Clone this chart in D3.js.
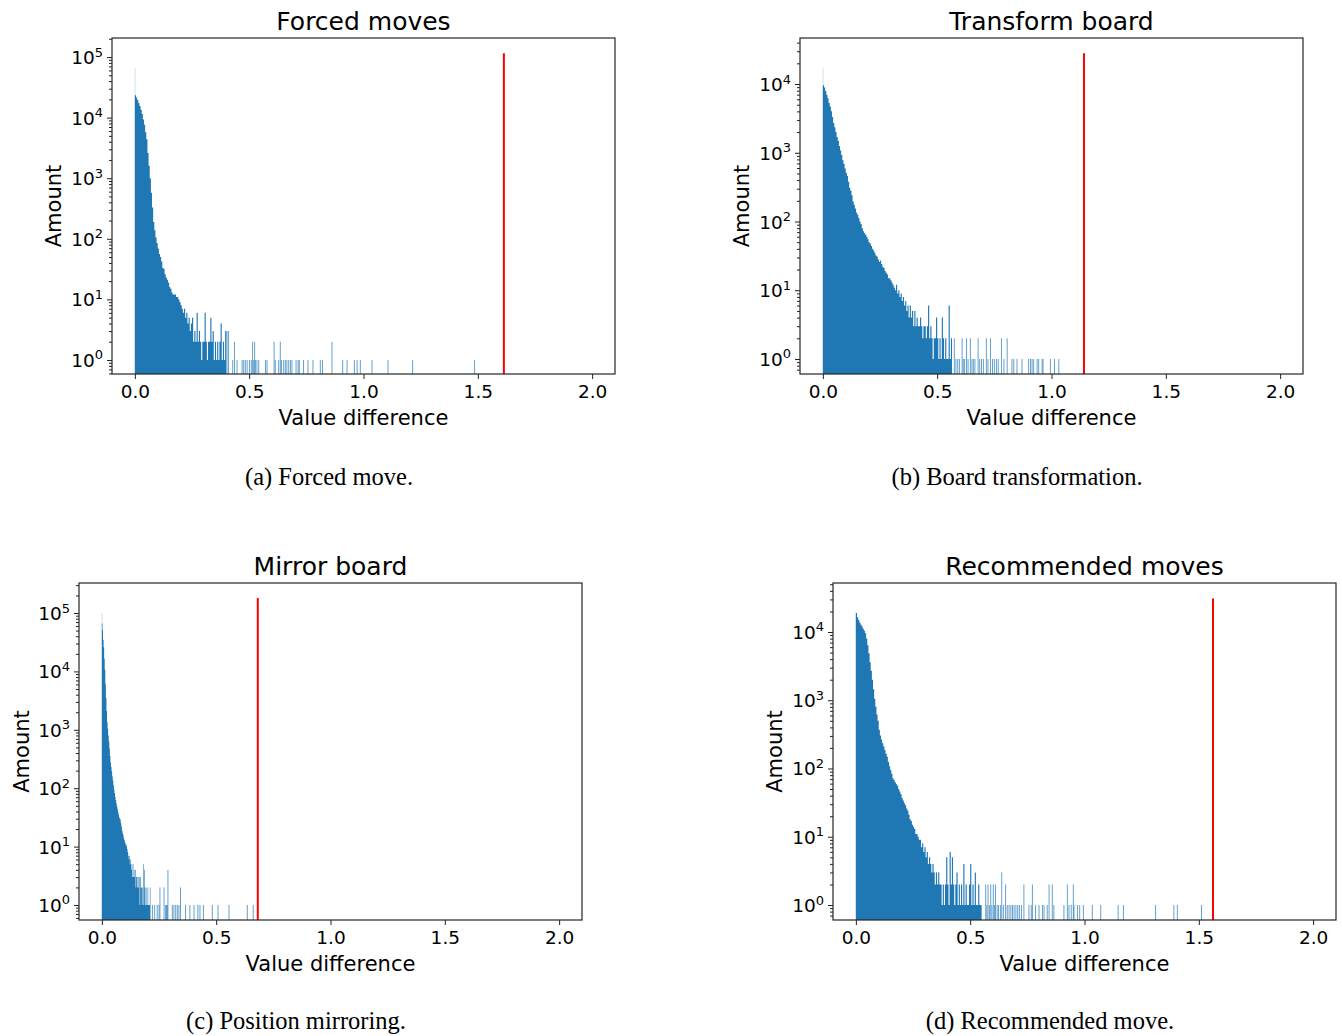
<!DOCTYPE html>
<html>
<head>
<meta charset="utf-8">
<script src="https://cdn.jsdelivr.net/npm/d3@7"></script>
<style>
body { margin: 0; background: #fff; }
svg text { font-family: "DejaVu Sans", sans-serif; fill: #000; }
.tick text, .ylab { font-size: 18.5px; }
.title { font-size: 25px; }
.axlabel { font-size: 21px; }
.caption { font-family: "Liberation Serif", "Times New Roman", serif; font-size: 24.5px; }
</style>
</head>
<body>
<svg id="fig" width="1342" height="1036"></svg>
<script>
// histogram counts
// dense part: consecutive bins starting at 0, sparse part: [x, count] single bins
const denseA = [
  23400, 21400, 19500, 17400, 15500, 13500, 11500, 9300, 7600, 5750,
  4400, 2600, 1600, 1000, 575, 330, 190, 138, 105, 85,
  69, 56, 50, 42, 33, 32, 26, 23, 21, 19,
  16, 15, 13, 12, 12, 12, 11, 11, 10, 9,
  8, 7, 6, 7, 5, 6, 4, 5, 3, 4,
  5, 2, 3, 2, 6, 2, 3, 2, 1, 2,
  2, 6, 2, 1, 2, 2, 5, 2, 3, 1,
  2, 1, 2, 1, 2, 4, 1, 2, 1, 3
];
const sparseA = [
  [0.401, 3], [0.408, 3], [0.426, 1], [0.434, 2], [0.445, 1], [0.467, 1], [0.474, 1],
  [0.481, 1], [0.489, 1], [0.499, 1], [0.507, 1], [0.513, 2], [0.518, 1], [0.522, 2],
  [0.525, 1], [0.532, 1], [0.540, 1], [0.569, 1], [0.576, 1], [0.607, 2], [0.612, 1],
  [0.627, 1], [0.634, 2], [0.639, 1], [0.649, 1], [0.656, 1], [0.663, 1], [0.671, 1],
  [0.678, 1], [0.685, 1], [0.703, 1], [0.712, 1], [0.717, 1], [0.736, 1], [0.755, 1],
  [0.777, 1], [0.809, 1], [0.819, 1], [0.860, 2], [0.907, 1], [0.926, 1], [0.958, 1],
  [0.970, 1], [0.984, 1], [1.035, 1], [1.105, 1], [1.213, 1], [1.484, 1]
];
const spikeA = [0, 66000];

const denseB = [
  9600, 8900, 7900, 7000, 6200, 5300, 4700, 4000, 3300, 2700,
  2350, 2000, 1700, 1500, 1250, 1080, 930, 780, 690, 590,
  510, 460, 380, 310, 280, 240, 195, 175, 155, 135,
  125, 112, 100, 92, 80, 72, 68, 64, 60, 55,
  50, 48, 44, 40, 38, 35, 32, 31, 28, 26,
  27, 24, 22, 21, 19, 18, 17, 15, 15, 14,
  13, 12, 11, 10, 12, 9, 10, 8, 9, 7,
  8, 6, 7, 5, 6, 4, 6, 4, 5, 3,
  5, 3, 4, 3, 3, 4, 3, 2, 3, 3,
  2, 3, 6, 2, 3, 2, 1, 2, 2, 4,
  2, 1, 2, 1, 4, 2, 1, 2, 1, 1,
  6, 1, 2
];
const sparseB = [
  [0.573, 2], [0.580, 1], [0.588, 1], [0.595, 1], [0.607, 2], [0.612, 1], [0.618, 1],
  [0.626, 2], [0.633, 1], [0.643, 2], [0.650, 1], [0.656, 1], [0.663, 1], [0.677, 2],
  [0.684, 1], [0.692, 1], [0.700, 1], [0.713, 2], [0.720, 1], [0.731, 2], [0.740, 1],
  [0.748, 1], [0.757, 1], [0.765, 1], [0.779, 2], [0.790, 1], [0.804, 2], [0.825, 1],
  [0.833, 1], [0.847, 1], [0.869, 1], [0.898, 1], [0.906, 1], [0.913, 1], [0.920, 1],
  [0.935, 1], [0.942, 1], [0.957, 1], [0.961, 1], [0.993, 1], [1.011, 1], [1.030, 1]
];
const spikeB = [0, 17400];

const denseC = [
  66000, 50000, 35000, 26000, 16500, 10700, 6000, 3500, 2100, 1350,
  1050, 800, 630, 480, 355, 275, 230, 195, 160, 135,
  112, 95, 83, 71, 63, 55, 49, 44, 39, 35,
  32, 30, 29, 25, 22, 19, 17, 16, 14, 13,
  12, 11, 11, 10, 9, 8, 7, 6, 7, 5,
  6, 4, 5, 3, 5, 3, 4, 3, 4, 2,
  3, 3, 2, 3, 2, 3, 1, 3, 2, 2,
  1, 2, 5, 1, 4, 2, 1, 2, 1, 1,
  2, 1, 1, 1, 2
];
const sparseC = [
  [0.219, 1], [0.229, 1], [0.240, 1], [0.248, 1], [0.252, 2], [0.270, 2], [0.277, 1],
  [0.281, 1], [0.284, 1], [0.287, 4], [0.306, 1], [0.313, 1], [0.321, 1], [0.328, 1],
  [0.335, 1], [0.342, 2], [0.364, 1], [0.383, 1], [0.401, 1], [0.418, 1], [0.427, 1],
  [0.442, 1], [0.481, 1], [0.506, 1], [0.554, 1], [0.634, 1], [0.660, 1]
];
const spikeC = [0, 100000];

const denseD = [
  19000, 16500, 15000, 13800, 12800, 12000, 11200, 10400, 9600, 8000,
  6400, 4900, 3600, 2700, 2000, 1450, 1050, 800, 620, 500,
  370, 305, 265, 235, 210, 185, 165, 148, 125, 108,
  95, 84, 72, 68, 63, 59, 56, 50, 46, 42,
  37, 34, 31, 29, 26, 24, 21, 18, 17, 15,
  14, 13, 11, 11, 10, 9, 9, 7, 8, 6,
  7, 5, 6, 4, 5, 4, 3, 4, 3, 2,
  3, 2, 3, 2, 2, 1, 2, 1, 2, 5,
  2, 1, 6, 2, 5, 2, 1, 2, 3, 1,
  2, 1, 2, 1, 4, 1, 2, 1, 1, 2,
  4, 1, 2, 1, 3, 1, 1, 2, 1, 1,
  0
];
const sparseD = [
  [0.566, 2], [0.571, 1], [0.576, 2], [0.582, 1], [0.588, 2], [0.593, 1], [0.599, 2],
  [0.604, 1], [0.609, 2], [0.616, 1], [0.622, 1], [0.630, 1], [0.636, 3], [0.643, 1],
  [0.653, 2], [0.660, 1], [0.668, 1], [0.676, 1], [0.683, 1], [0.690, 1], [0.698, 1],
  [0.706, 1], [0.713, 1], [0.722, 1], [0.733, 2], [0.755, 1], [0.765, 1], [0.770, 2],
  [0.784, 1], [0.799, 1], [0.814, 1], [0.821, 1], [0.835, 1], [0.843, 2], [0.857, 2],
  [0.864, 1], [0.908, 1], [0.923, 2], [0.930, 1], [0.940, 1], [0.949, 2], [0.952, 1],
  [0.967, 1], [0.977, 1], [0.993, 1], [1.032, 1], [1.069, 1], [1.145, 1], [1.168, 1],
  [1.309, 1], [1.389, 1], [1.404, 1], [1.510, 1]
];
const spikeD = [0, 19400];

// red threshold lines: [x, top]
const redA = [1.614, 115000];
const redB = [1.142, 28000];
const redC = [0.682, 180000];
const redD = [1.562, 31000];

const titles = ['Forced moves', 'Transform board', 'Mirror board', 'Recommended moves'];
const captions = ['(a) Forced move.', '(b) Board transformation.', '(c) Position mirroring.', '(d) Recommended move.'];
const xTicks = [0, 0.5, 1.0, 1.5, 2.0];

const barColor = '#1f77b4';
const tailW = 0.004;
const spikeW = 0.0015;

const panels = [
  { dense: denseA, bin: 0.005, sparse: sparseA, spike: spikeA, red: redA, yDom: [0.587, 206000], exps: [0, 1, 2, 3, 4, 5],
    box: { l: 112, r: 615, t: 38, b: 374 }, ylabX: 53, cap: [329, 485] },
  { dense: denseB, bin: 0.005, sparse: sparseB, spike: spikeB, red: redB, yDom: [0.605, 46700], exps: [0, 1, 2, 3, 4],
    box: { l: 800, r: 1303, t: 38, b: 374 }, ylabX: 741, cap: [1017, 485] },
  { dense: denseC, bin: 0.0025, sparse: sparseC, spike: spikeC, red: redC, yDom: [0.553, 326600], exps: [0, 1, 2, 3, 4, 5],
    box: { l: 79, r: 582, t: 583, b: 920 }, ylabX: 21, cap: [296, 1029] },
  { dense: denseD, bin: 0.005, sparse: sparseD, spike: spikeD, red: redD, yDom: [0.603, 52200], exps: [0, 1, 2, 3, 4],
    box: { l: 833, r: 1336, t: 583, b: 920 }, ylabX: 774, cap: [1050, 1029] }
];

const svg = d3.select('#fig');

panels.forEach((p, k) => {
  const { l, r, t, b } = p.box;
  const x = d3.scaleLinear().domain([-0.1, 2.1]).range([l, r]);
  const y = d3.scaleLog().domain(p.yDom).range([b, t]);

  const g = svg.append('g');
  const clipId = 'clip' + k;
  svg.append('clipPath').attr('id', clipId)
    .append('rect').attr('x', l).attr('y', t).attr('width', r - l).attr('height', b - t);
  const plot = g.append('g').attr('clip-path', `url(#${clipId})`);

  // dense bins as one stepped area
  const bins = p.dense.map((c, i) => ({ x0: i * p.bin, c }));
  bins.push({ x0: p.dense.length * p.bin, c: 0 });
  const area = d3.area().curve(d3.curveStepAfter)
    .x(d => x(d.x0))
    .y0(b)
    .y1(d => d.c > 0 ? y(d.c) : b);
  plot.append('path').datum(bins).attr('d', area).attr('fill', barColor);

  // thin first bin and isolated tail bins
  plot.append('rect')
    .attr('x', x(p.spike[0])).attr('width', x(p.spike[0] + spikeW) - x(p.spike[0]))
    .attr('y', y(p.spike[1])).attr('height', b - y(p.spike[1]))
    .attr('fill', barColor).attr('opacity', 0.6);

  plot.selectAll('rect.tail').data(p.sparse).join('rect')
    .attr('class', 'tail')
    .attr('x', d => x(d[0]))
    .attr('width', d => x(d[0] + tailW) - x(d[0]))
    .attr('y', d => y(d[1]))
    .attr('height', d => b - y(d[1]))
    .attr('fill', barColor)
    .attr('opacity', 0.75);

  plot.append('line')
    .attr('x1', x(p.red[0])).attr('x2', x(p.red[0]))
    .attr('y1', y(p.red[1])).attr('y2', b)
    .attr('stroke', '#ff0000').attr('stroke-width', 2);

  // axes
  const xa = g.append('g').attr('transform', `translate(0,${b})`)
    .call(d3.axisBottom(x).tickValues(xTicks).tickFormat(d3.format('.1f')).tickSize(5).tickPadding(6));
  xa.select('.domain').remove();
  xa.attr('font-size', null).attr('font-family', null);

  const minor = y.ticks().filter(v => Math.abs(Math.log10(v) - Math.round(Math.log10(v))) > 1e-6);
  const ya1 = g.append('g').attr('transform', `translate(${l},0)`)
    .call(d3.axisLeft(y).tickValues(minor).tickSize(3).tickFormat(''));
  ya1.select('.domain').remove();
  const majors = p.exps.map(e => Math.pow(10, e));
  const ya2 = g.append('g').attr('transform', `translate(${l},0)`)
    .call(d3.axisLeft(y).tickValues(majors).tickSize(5).tickFormat(''));
  ya2.select('.domain').remove();
  g.selectAll('.tick line').attr('stroke', '#222');

  const lab = g.selectAll('text.ylab').data(p.exps).join('text')
    .attr('class', 'ylab')
    .attr('text-anchor', 'end')
    .attr('x', l - 9)
    .attr('y', e => y(Math.pow(10, e)) + 7);
  lab.append('tspan').text('10');
  lab.append('tspan').attr('dy', -7.5).attr('font-size', 13).text(e => e);

  // frame
  g.append('rect')
    .attr('x', l).attr('y', t).attr('width', r - l).attr('height', b - t)
    .attr('fill', 'none').attr('stroke', '#262626').attr('stroke-width', 1.2);

  // texts
  g.append('text').attr('class', 'title').attr('text-anchor', 'middle')
    .attr('x', (l + r) / 2).attr('y', t - 8).text(titles[k]);
  g.append('text').attr('class', 'axlabel').attr('text-anchor', 'middle')
    .attr('x', x(1.0)).attr('y', b + 51).text('Value difference');
  g.append('text').attr('class', 'axlabel').attr('text-anchor', 'middle')
    .attr('transform', `translate(${p.ylabX},${(t + b) / 2}) rotate(-90)`)
    .attr('dy', '0.36em').text('Amount');
  svg.append('text').attr('class', 'caption').attr('text-anchor', 'middle')
    .attr('x', p.cap[0]).attr('y', p.cap[1]).text(captions[k]);
});
</script>
</body>
</html>
